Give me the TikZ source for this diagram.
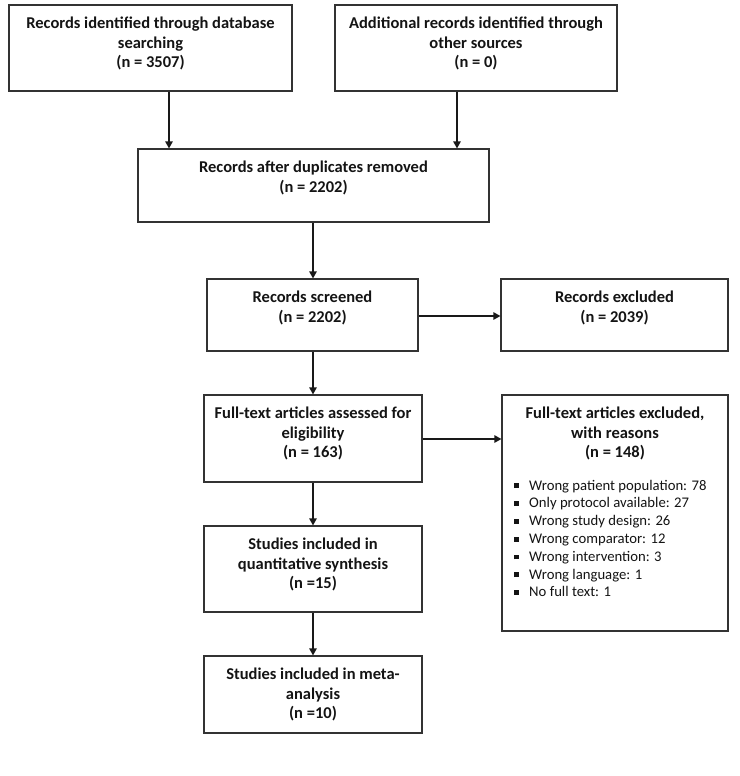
\documentclass[tikz,border=0pt]{standalone}
\usepackage{fontspec}
\setmainfont{Carlito}
\usetikzlibrary{arrows.meta,calc}
\newcommand{\bulsq}{\makebox[15pt][l]{\rule[2pt]{4.8pt}{4.8pt}}}
\begin{document}
\begin{tikzpicture}[x=1pt,y=-1pt,
  box/.style={draw=black!80, line width=1.2pt, inner sep=0pt, fill=white},
  lbl/.style={anchor=north, inner sep=0pt, align=center, text=black!92,
    font=\bfseries\fontsize{16.5}{19.6}\selectfont},
  lst/.style={anchor=north west, inner sep=0pt, align=left, text=black!92,
    font=\fontsize{14.7}{17.8}\selectfont},
  arr/.style={draw=black!90, line width=1.2pt, -{Triangle[width=7.5pt,length=7pt]}}]
\useasboundingbox (0,0) rectangle (739,776);
% boxes
\node[box, minimum width=283pt, minimum height=86pt] (b1) at (150.5,48) {};
\node[box, minimum width=282pt, minimum height=86pt] (b2) at (476,48) {};
\node[box, minimum width=351pt, minimum height=73pt] (b3) at (313.5,185.5) {};
\node[box, minimum width=211pt, minimum height=72pt] (b4) at (312.5,315) {};
\node[box, minimum width=227pt, minimum height=72pt] (b5) at (614.5,315) {};
\node[box, minimum width=218pt, minimum height=87pt] (b6) at (313,438.5) {};
\node[box, minimum width=226pt, minimum height=236pt] (b7) at (615,513) {};
\node[box, minimum width=218pt, minimum height=86pt] (b8) at (313,569) {};
\node[box, minimum width=218pt, minimum height=77pt] (b9) at (313,694.5) {};
% texts
\node[lbl] (t1) at ($(b1.north)+(0,10.3)$) {\strut Records identified through database\\searching\\(n = 3507)};
\node[lbl] (t2) at ($(b2.north)+(0,10.3)$) {\strut Additional records identified through\\other sources\\(n = 0)};
\node[lbl] (t3) at ($(b3.north)+(0,10.3)$) {\strut Records after duplicates removed\\(n = 2202)};
\node[lbl] (t4) at ($(b4.north)+(0,10.3)$) {\strut Records screened\\(n = 2202)};
\node[lbl] (t5) at ($(b5.north)+(0,10.3)$) {\strut Records excluded\\(n = 2039)};
\node[lbl] (t6) at ($(b6.north)+(0,10.3)$) {\strut Full-text articles assessed for\\eligibility\\(n = 163)};
\node[lbl] (t7) at ($(b7.north)+(0,10.3)$) {\strut Full-text articles excluded,\\with reasons\\(n = 148)};
\node[lst] (t7b) at (514,477.5) {\strut\bulsq Wrong patient population: 78\\
\bulsq Only protocol available: 27\\
\bulsq Wrong study design: 26\\
\bulsq Wrong comparator: 12\\
\bulsq Wrong intervention: 3\\
\bulsq Wrong language: 1\\
\bulsq No full text: 1};
\node[lbl] (t8) at ($(b8.north)+(0,10.3)$) {\strut Studies included in\\quantitative synthesis\\(n =15)};
\node[lbl] (t9) at ($(b9.north)+(0,10.3)$) {\strut Studies included in meta-\\analysis\\(n =10)};
% connectors
\coordinate (xa) at (169,0);
\coordinate (xb) at (457,0);
\coordinate (xc) at (313,0);
\coordinate (ya) at (0,316);
\coordinate (yb) at (0,439);
\draw[arr] (b1.south -| xa) -- (b3.north -| xa);
\draw[arr] (b2.south -| xb) -- (b3.north -| xb);
\draw[arr] (b3.south -| xc) -- (b4.north -| xc);
\draw[arr] (b4.east |- ya) -- (b5.west |- ya);
\draw[arr] (b4.south -| xc) -- (b6.north -| xc);
\draw[arr] (b6.east |- yb) -- (b7.west |- yb);
\draw[arr] (b6.south) -- (b8.north);
\draw[arr] (b8.south) -- (b9.north);
\end{tikzpicture}
\end{document}
